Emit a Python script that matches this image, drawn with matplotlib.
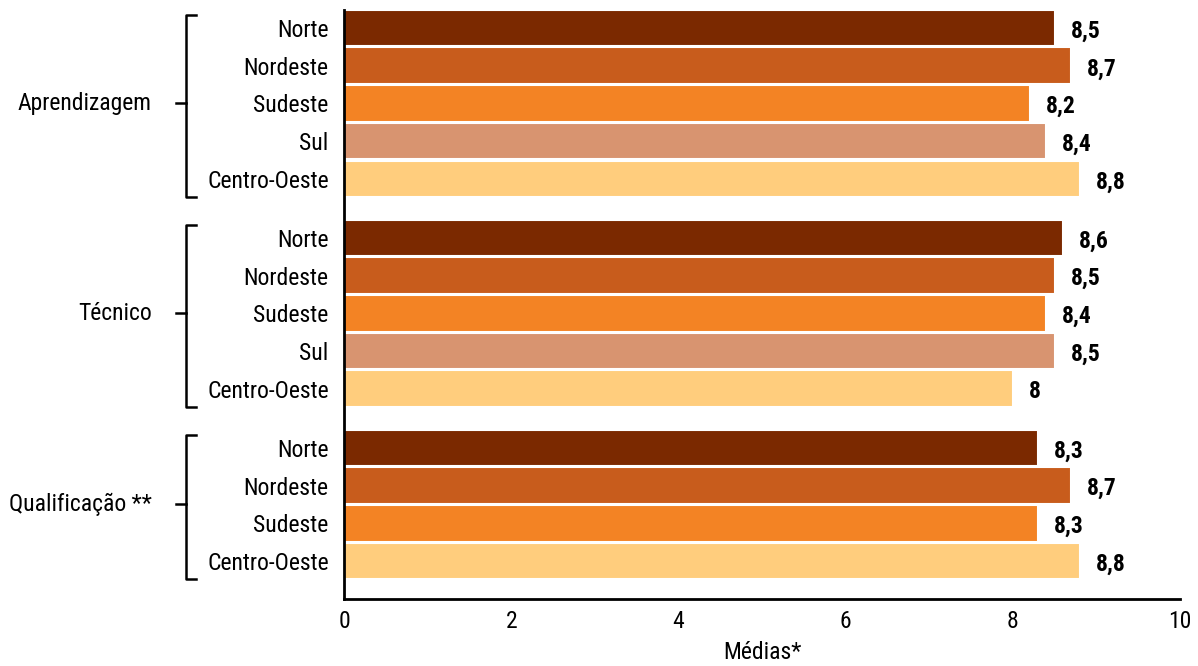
import numpy as np
import matplotlib
matplotlib.use("Agg")
from matplotlib import pyplot as plt
from matplotlib import transforms

plt.rcParams['font.family'] = ['Roboto Condensed', 'DejaVu Sans']

groups = ['Aprendizagem', 'Técnico', 'Qualificação **']
regions_apr = ['Norte', 'Nordeste', 'Sudeste', 'Sul', 'Centro-Oeste']
regions_tec = ['Norte', 'Nordeste', 'Sudeste', 'Sul', 'Centro-Oeste']
regions_qua = ['Norte', 'Nordeste', 'Sudeste', 'Centro-Oeste']
values_apr = [8.5, 8.7, 8.2, 8.4, 8.8]
values_tec = [8.6, 8.5, 8.4, 8.5, 8.0]
values_qua = [8.3, 8.7, 8.3, 8.8]

region_colors = {
    'Norte': '#7b2900',
    'Nordeste': '#c85c1c',
    'Sudeste': '#f38324',
    'Sul': '#d89470',
    'Centro-Oeste': '#ffcd7d',
}

fig = plt.figure(figsize=(11.98, 6.66), dpi=100)
ax = fig.add_axes([344/1198, 1-599/666, (1180-344)/1198, (599-10)/666])

gap = 0.57
labels = []
ypos = []
start = 0.0
spans = []
for regs, vals in [(regions_apr, values_apr), (regions_tec, values_tec), (regions_qua, values_qua)]:
    ys = start + np.arange(len(regs))
    ax.barh(ys, vals, height=0.97, color=[region_colors[r] for r in regs],
            edgecolor='white', linewidth=1.5)
    for y, v in zip(ys, vals):
        txt = ('%g' % v).replace('.', ',')
        ax.text(v + 0.19, y + 0.08, txt, va='center', ha='left',
                fontsize=17, fontweight='bold')
    labels += regs
    ypos += list(ys)
    spans.append((ys[0], ys[-1]))
    start = ys[-1] + 1 + gap

ax.set_yticks(ypos)
ax.set_yticklabels(labels, fontsize=17)
ax.tick_params(axis='y', length=0, pad=11)
ax.tick_params(axis='x', length=0, pad=8, labelsize=17)
ax.set_xlim(0, 10)
ax.set_xticks([0, 2, 4, 6, 8, 10])
ax.set_ylim(spans[-1][1] + 1.01, spans[0][0] - 0.48)
ax.set_xlabel('Médias*', fontsize=17, labelpad=6)
for s in ['top', 'right']:
    ax.spines[s].set_visible(False)
for s in ['left', 'bottom']:
    ax.spines[s].set_linewidth(2)

# brackets with the group names
tr = transforms.blended_transform_factory(fig.transFigure, ax.transData)
xv = 186/1198
xr = 196/1198
xm = 176/1198
for name, (y0, y1) in zip(groups, spans):
    top = y0 - 0.35
    bot = y1 + 0.48
    mid = (y0 + y1) / 2
    ax.plot([xr, xv, xv, xr], [top, top, bot, bot], color='black', lw=1.8,
            transform=tr, clip_on=False, solid_joinstyle='round')
    ax.plot([xm, xv], [mid, mid], color='black', lw=1.8, transform=tr, clip_on=False)
    ax.text(152/1198, mid, name, transform=tr, ha='right', va='center', fontsize=17)

fig.savefig('out.png', dpi=100)
